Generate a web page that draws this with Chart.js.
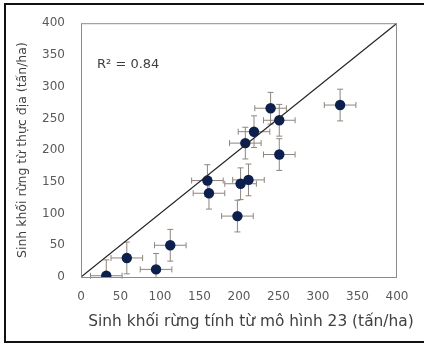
<!DOCTYPE html>
<html>
<head>
<meta charset="utf-8">
<script src="https://cdn.jsdelivr.net/npm/chart.js@4.4.1/dist/chart.umd.min.js"></script>
<style>
  html, body { margin: 0; padding: 0; background: #fff; }
  #wrap { position: relative; width: 424px; height: 348px; }
  #frame {
    position: absolute; left: 4px; top: 3px; width: 420px; height: 340px;
    border-left: 2px solid #111; border-top: 2px solid #111; border-bottom: 2px solid #111;
    box-sizing: border-box; pointer-events: none;
  }
</style>
</head>
<body>
<div id="wrap">
  <canvas id="chart" width="424" height="348"></canvas>
  <div id="frame"></div>
</div>
<script>
// biomass from model 23 (x) vs field measured (y), t/ha
const modelValues = [32, 58, 95, 113, 160, 162, 198, 202, 212, 208, 219, 240, 251, 251, 328];
const fieldValues = [2, 30, 12, 50, 152, 132, 96, 147, 153, 211, 229, 266, 247, 193, 271];
const modelErr = [20, 20, 20, 20, 20, 20, 20, 20, 20, 20, 20, 20, 20, 20, 20];
const fieldErr = [25, 25, 25, 25, 25, 25, 25, 25, 25, 25, 25, 25, 25, 25, 25];
const axisTicks = [0, 50, 100, 150, 200, 250, 300, 350, 400];
const oneToOne = [0, 400];
const r2Label = 'R² = 0.84';
const xTitle = 'Sinh khối rừng tính từ mô hình 23 (tấn/ha)';
const yTitle = 'Sinh khối rừng từ thực địa (tấn/ha)';

const tickColor = '#595959';

// error bars drawn from the data arrays via the chart scales
const errorBars = {
    id: 'errorBars',
    beforeDatasetsDraw(chart) {
        const { ctx, scales: { x, y } } = chart;
        const cap = 3;
        ctx.save();
        ctx.strokeStyle = '#8f857c';
        ctx.lineWidth = 1;
        modelValues.forEach((mv, i) => {
            const fv = fieldValues[i];
            const px = x.getPixelForValue(mv);
            const py = y.getPixelForValue(fv);
            const x1 = x.getPixelForValue(mv - modelErr[i]);
            const x2 = x.getPixelForValue(mv + modelErr[i]);
            const y1 = y.getPixelForValue(Math.max(fv - fieldErr[i], y.min));
            const y2 = y.getPixelForValue(fv + fieldErr[i]);
            ctx.beginPath();
            ctx.moveTo(x1, py); ctx.lineTo(x2, py);
            ctx.moveTo(x1, py - cap); ctx.lineTo(x1, py + cap);
            ctx.moveTo(x2, py - cap); ctx.lineTo(x2, py + cap);
            ctx.moveTo(px, y1); ctx.lineTo(px, y2);
            ctx.moveTo(px - cap, y2); ctx.lineTo(px + cap, y2);
            if (fv - fieldErr[i] > y.min) {
                ctx.moveTo(px - cap, y1); ctx.lineTo(px + cap, y1);
            }
            ctx.stroke();
        });
        ctx.restore();
    }
};

// R² label and the x title (which sits a bit right of the plot centre)
const texts = {
    id: 'texts',
    afterDraw(chart) {
        const { ctx, chartArea } = chart;
        ctx.save();
        ctx.font = '13px "DejaVu Sans"';
        ctx.fillStyle = '#404040';
        ctx.textBaseline = 'middle';
        ctx.fillText(r2Label, chartArea.left + 16, chartArea.top + 41);
        ctx.font = '15.4px "DejaVu Sans"';
        ctx.textAlign = 'center';
        ctx.fillText(xTitle, chartArea.left + 170, chartArea.bottom + 45);
        ctx.restore();
    }
};

const plotBorder = {
    id: 'plotBorder',
    afterDraw(chart) {
        const { ctx, chartArea: a } = chart;
        ctx.save();
        ctx.strokeStyle = '#8c8c8c';
        ctx.lineWidth = 1;
        ctx.strokeRect(a.left + 0.5, a.top + 0.5, a.right - a.left - 1, a.bottom - a.top);
        ctx.restore();
    }
};

new Chart(document.getElementById('chart'), {
    type: 'scatter',
    data: {
        datasets: [{
            type: 'line',
            data: oneToOne.map(v => ({ x: v, y: v })),
            borderColor: '#222',
            borderWidth: 1.2,
            pointRadius: 0,
            fill: false
        }, {
            data: modelValues.map((v, i) => ({ x: v, y: fieldValues[i] })),
            backgroundColor: '#0c1f4d',
            borderColor: '#0c1f4d',
            borderWidth: 0,
            pointRadius: 5.2,
            pointHoverRadius: 5.2
        }]
    },
    options: {
        responsive: false,
        animation: false,
        events: [],
        layout: { padding: { left: 6, right: 27, top: 17, bottom: 0 } },
        plugins: { legend: { display: false }, tooltip: { enabled: false } },
        scales: {
            x: {
                type: 'linear',
                min: 0, max: 400,
                afterBuildTicks: s => { s.ticks = axisTicks.map(v => ({ value: v })); },
                afterFit: s => { s.height = 71; },
                grid: { display: false, drawTicks: false },
                border: { display: false },
                ticks: { padding: 13, color: tickColor, font: { family: 'DejaVu Sans', size: 12 } },
                title: { display: false }
            },
            y: {
                type: 'linear',
                min: 0, max: 400,
                afterBuildTicks: s => { s.ticks = axisTicks.map(v => ({ value: v })); },
                afterFit: s => { s.width = 75; },
                grid: { display: false, drawTicks: false },
                border: { display: false },
                ticks: { padding: 16, color: tickColor, font: { family: 'DejaVu Sans', size: 12 } },
                title: {
                    display: true,
                    text: yTitle,
                    color: '#404040',
                    font: { family: 'DejaVu Sans', size: 12.5 },
                    padding: { top: 9, bottom: 0 }
                }
            }
        }
    },
    plugins: [errorBars, texts, plotBorder]
});
</script>
</body>
</html>
